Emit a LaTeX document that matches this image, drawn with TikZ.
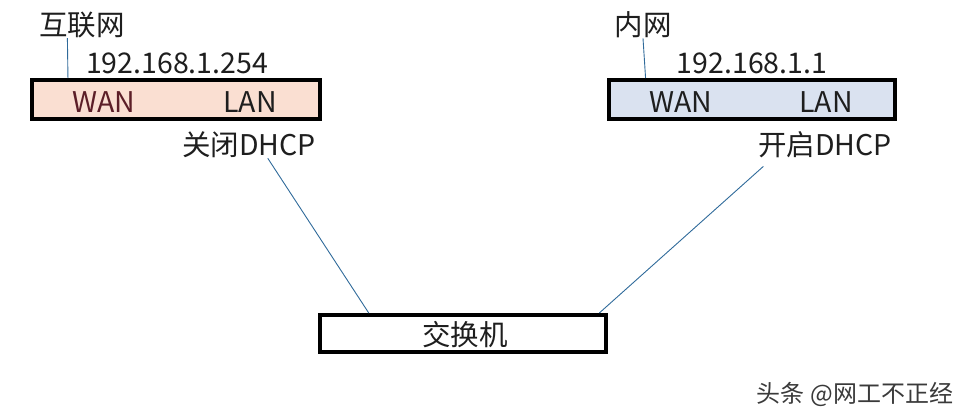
\documentclass[tikz,border=0pt]{standalone}
\usepackage{fontspec}
\setmainfont{Noto Sans CJK SC}
\usepackage{tikz}
\usetikzlibrary{positioning,calc}
\definecolor{nboxline}{HTML}{000000}
\definecolor{nwanfill}{HTML}{FADFD2}
\definecolor{nlanfill}{HTML}{DAE2F0}
\definecolor{nlink}{HTML}{2F6A9A}
\definecolor{ntext}{HTML}{1E1E1E}
\definecolor{nwanred}{HTML}{5C1E28}
\definecolor{nmark}{HTML}{3A3A3A}
\tikzset{nbox/.style={rectangle, draw=nboxline, line width=4pt, minimum width=288pt, minimum height=39pt, inner sep=0pt}}
\tikzset{ntxt/.style={inner sep=0pt, text=ntext, font=\fontsize{28.5}{32}\selectfont}}
\tikzset{nlinkline/.style={draw=nlink, line width=0.9pt}}

\begin{document}
\begin{tikzpicture}[x=1pt, y=-1pt]
  \useasboundingbox (0,0) rectangle (968,418);

  \node[nbox, fill=nwanfill] (gwL) at (176,99.5) {};
  \node[nbox, fill=nlanfill, minimum width=286pt] (gwR) at (752,99.5) {};
  \node[nbox, fill=white, minimum width=286pt, minimum height=37pt] (switch) at (463,333.5) {};

  \node[ntxt] (inet) at (82,25) {互联网};
  \node[ntxt] (ipL) at (177,63) {192.168.1.254};
  \node[ntxt, text=nwanred] (wanL) at (104,102) {WAN};
  \node[ntxt] (lanL) at (250,102) {LAN};
  \node[ntxt] (offL) at (249,145) {关闭DHCP};

  \node[ntxt] (intra) at (643,25) {内网};
  \node[ntxt] (ipR) at (752,63) {192.168.1.1};
  \node[ntxt] (wanR) at (681,102) {WAN};
  \node[ntxt] (lanR) at (826,102) {LAN};
  \node[ntxt] (onR) at (825,145) {开启DHCP};

  \node[ntxt] (swtxt) at (465,335) {交换机};
  \node[ntxt, text=nmark, font=\fontsize{24}{27}\selectfont] (mark) at (855,394) {头条 @网工不正经};

  \draw[nlinkline] ($(inet.south west)!0.33!(inet.south east)$) -- ($(gwL.north west)!0.13!(gwL.north east)$);
  \draw[nlinkline] ($(intra.south west)!0.5!(intra.south east)$) -- ($(gwR.north west)!0.133!(gwR.north east)$);
  \draw[nlinkline] ($(offL.south west)!0.64!(offL.south east)$) -- ($(switch.north west)!0.175!(switch.north east)$);
  \draw[nlinkline] ($(onR.south west)!0.04!(onR.south east)$) ++(0,8) -- ($(switch.north west)!0.97!(switch.north east)$);
\end{tikzpicture}
\end{document}
